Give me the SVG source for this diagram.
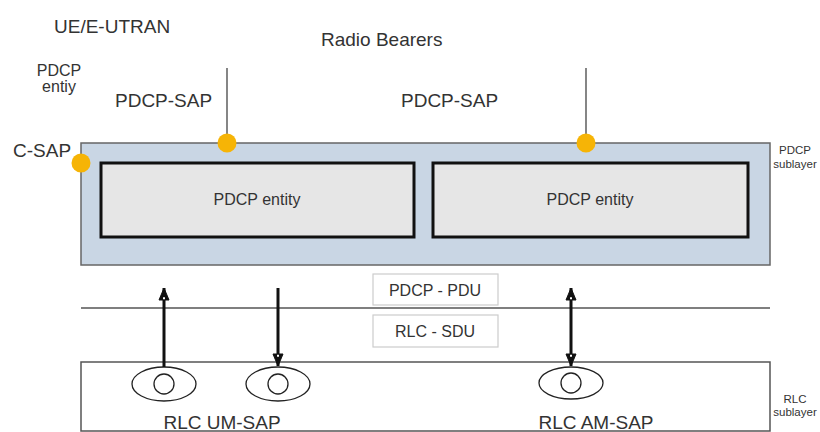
<svg xmlns="http://www.w3.org/2000/svg" width="820" height="432" viewBox="0 0 820 432">
  <style>
    text { font-family: "Liberation Sans", Arial, sans-serif; fill: #333; }
    .big { font-size: 19px; }
    .mid { font-size: 16px; }
    .small { font-size: 11.5px; }
    .sublayer { fill: #c9d6e4; stroke: #666; stroke-width: 1.5; }
    .entity { fill: #e6e6e6; stroke: #111; stroke-width: 3; }
    .sap { fill: #f6b406; }
    .pdu { fill: #fff; stroke: #ccc; stroke-width: 1.2; }
    .rlc { fill: #fff; stroke: #555; stroke-width: 1.5; }
    .ell { fill: #fff; stroke: #222; stroke-width: 1.3; }
    .flow { stroke: #111; stroke-width: 3; fill: none; }
    .bearer { stroke: #444; stroke-width: 1.3; }
  </style>
  <defs>
    <marker id="head" viewBox="-1 -1 14 12" refX="12" refY="5" markerWidth="14" markerHeight="12" markerUnits="userSpaceOnUse" orient="auto-start-reverse">
      <path d="M0,0 L12,5 L0,10 z" fill="#111" stroke="#111" stroke-width="1" stroke-linejoin="miter"/>
      <rect x="0.8" y="4" width="2" height="2" fill="#fff"/>
    </marker>
  </defs>

  <rect width="820" height="432" fill="#fff"/>

  <!-- headings -->
  <text class="big" x="54" y="33">UE/E-UTRAN</text>
  <text class="big" x="321" y="46">Radio Bearers</text>
  <text class="mid" x="59" y="76" text-anchor="middle">PDCP</text>
  <text class="mid" x="59" y="92" text-anchor="middle">entiy</text>
  <text class="big" x="115" y="107">PDCP-SAP</text>
  <text class="big" x="401" y="107">PDCP-SAP</text>
  <text class="big" x="13" y="157">C-SAP</text>

  <!-- PDCP sublayer -->
  <g id="pdcp-sublayer">
    <rect class="sublayer" x="81" y="143" width="689" height="122"/>
    <text class="small" x="795" y="154" text-anchor="middle">PDCP</text>
    <text class="small" x="795" y="168" text-anchor="middle">sublayer</text>
  </g>
  <g id="pdcp-entity-1">
    <rect class="entity" x="101" y="163" width="313" height="74"/>
    <text class="mid" x="257" y="205" text-anchor="middle" font-size="17">PDCP entity</text>
  </g>
  <g id="pdcp-entity-2">
    <rect class="entity" x="433" y="163" width="315" height="74"/>
    <text class="mid" x="590" y="205" text-anchor="middle" font-size="17">PDCP entity</text>
  </g>

  <!-- radio bearers entering the PDCP SAPs -->
  <g id="bearers">
    <line class="bearer" x1="227" y1="68" x2="227" y2="143"/>
    <line class="bearer" x1="586" y1="68" x2="586" y2="143"/>
  </g>
  <g id="saps">
    <circle class="sap" cx="227" cy="143" r="9.5"/>
    <circle class="sap" cx="586" cy="143" r="9.5"/>
    <circle class="sap" cx="81" cy="163" r="9.5"/>
  </g>

  <!-- layer boundary -->
  <line x1="81" y1="308" x2="770" y2="308" stroke="#555" stroke-width="1.4"/>

  <g id="pdcp-pdu">
    <rect class="pdu" x="373" y="274" width="125" height="31"/>
    <text class="mid" x="435" y="296" text-anchor="middle">PDCP - PDU</text>
  </g>
  <g id="rlc-sdu">
    <rect class="pdu" x="373" y="315" width="125" height="32"/>
    <text class="mid" x="435" y="337" text-anchor="middle">RLC - SDU</text>
  </g>

  <!-- RLC sublayer -->
  <g id="rlc-sublayer">
    <rect class="rlc" x="81" y="362" width="689" height="69"/>
    <text class="small" x="795" y="403" text-anchor="middle">RLC</text>
    <text class="small" x="795" y="416" text-anchor="middle">sublayer</text>
  </g>
  <g id="rlc-um-sap">
    <ellipse class="ell" cx="164" cy="384" rx="32" ry="17"/>
    <circle class="ell" cx="164" cy="384" r="10"/>
    <ellipse class="ell" cx="278" cy="384" rx="32" ry="17"/>
    <circle class="ell" cx="278" cy="384" r="10"/>
    <text class="big" x="222" y="429" text-anchor="middle">RLC UM-SAP</text>
  </g>
  <g id="rlc-am-sap">
    <ellipse class="ell" cx="571" cy="383" rx="32" ry="16"/>
    <circle class="ell" cx="571" cy="383" r="10"/>
    <text class="big" x="596" y="429" text-anchor="middle">RLC AM-SAP</text>
  </g>

  <!-- data flows between RLC SAPs and PDCP -->
  <g id="connectors">
    <line class="flow" x1="164" y1="367" x2="164" y2="288" marker-end="url(#head)"/>
    <line class="flow" x1="278" y1="288" x2="278" y2="366" marker-end="url(#head)"/>
    <line class="flow" x1="571" y1="288" x2="571" y2="366" marker-start="url(#head)" marker-end="url(#head)"/>
  </g>
</svg>
